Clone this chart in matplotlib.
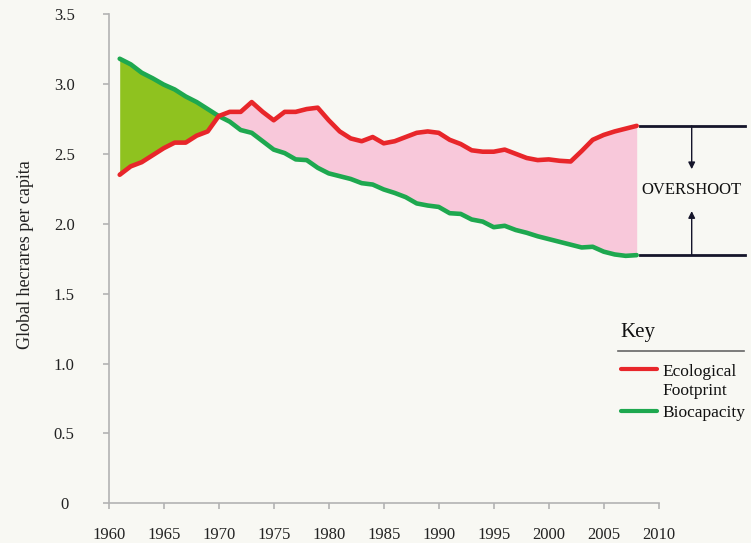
import numpy as np
import matplotlib
matplotlib.use("Agg")
import matplotlib.pyplot as plt
from matplotlib.lines import Line2D

years = np.arange(1961, 2009)

footprint = [2.35, 2.41, 2.44, 2.49, 2.54, 2.58, 2.58, 2.63, 2.66, 2.77,
             2.80, 2.80, 2.87, 2.80, 2.74, 2.80, 2.80, 2.82, 2.83, 2.74,
             2.66, 2.61, 2.59, 2.62, 2.575, 2.59, 2.62, 2.65, 2.66, 2.65,
             2.60, 2.57, 2.525, 2.515, 2.515, 2.53, 2.50, 2.47, 2.455, 2.46,
             2.45, 2.445, 2.52, 2.60, 2.635, 2.66, 2.68, 2.70]

biocapacity = [3.18, 3.14, 3.08, 3.04, 2.995, 2.96, 2.91, 2.87, 2.82, 2.77,
               2.73, 2.67, 2.65, 2.59, 2.53, 2.505, 2.46, 2.455, 2.40, 2.36,
               2.34, 2.32, 2.29, 2.28, 2.245, 2.22, 2.19, 2.145, 2.13, 2.12,
               2.075, 2.07, 2.03, 2.015, 1.975, 1.985, 1.955, 1.935, 1.91, 1.89,
               1.87, 1.85, 1.83, 1.835, 1.80, 1.78, 1.77, 1.775]

xticks = list(range(1960, 2011, 5))
yticks = [0, 0.5, 1.0, 1.5, 2.0, 2.5, 3.0, 3.5]
ytick_labels = ["0", "0.5", "1.0", "1.5", "2.0", "2.5", "3.0", "3.5"]

red = "#e8262a"
green = "#1ea84f"
bg = "#f8f8f3"
navy = "#15152a"
axis_gray = "#b3b3b3"

plt.rcParams['font.family'] = ['Liberation Serif', 'DejaVu Serif']

W, H = 751, 543
fig = plt.figure(figsize=(W / 100, H / 100), dpi=100, facecolor=bg)
ax = fig.add_axes([108.7 / W, 1 - 503.3 / H, 550 / W, (503.3 - 14) / H])
ax.set_facecolor(bg)

fp = np.array(footprint)
bc = np.array(biocapacity)
ax.fill_between(years, fp, bc, where=bc >= fp, interpolate=True,
                color="#8fc21f", linewidth=0)
ax.fill_between(years, fp, bc, where=fp >= bc, interpolate=True,
                color="#f8c8da", linewidth=0)
ax.plot(years, bc, color=green, lw=3.3, solid_capstyle='round',
        solid_joinstyle='round')
ax.plot(years, fp, color=red, lw=3.3, solid_capstyle='round',
        solid_joinstyle='round')

ax.set_xlim(1960, 2010)
ax.set_ylim(0, 3.5)
ax.set_xticks(xticks)
ax.set_yticks(yticks)
ax.set_yticklabels(ytick_labels)
for s in ['top', 'right']:
    ax.spines[s].set_visible(False)
for s in ['left', 'bottom']:
    ax.spines[s].set_color(axis_gray)
    ax.spines[s].set_linewidth(1.2)
ax.tick_params(axis='both', colors=axis_gray, length=4, width=1.2,
               labelcolor="#222222", labelsize=12)
ax.tick_params(axis='x', pad=13)
ax.tick_params(axis='y', pad=28)
for lab in ax.get_yticklabels():
    lab.set_horizontalalignment('center')

fig.text(26 / W, 1 - 255 / H, "Global hecrares per capita", rotation=90,
         ha='center', va='center', fontsize=13, color="#222222")

# overshoot bracket
top, bot = fp[-1], bc[-1]
x0, x1, xa = 2008.3, 2017.8, 2013.0
ax.plot([x0, x1], [top, top], color=navy, lw=2, clip_on=False)
ax.plot([x0, x1], [bot, bot], color=navy, lw=2, clip_on=False)
ax.annotate("", xy=(xa, 2.39), xytext=(xa, top), annotation_clip=False,
            arrowprops=dict(arrowstyle="-|>", color=navy, lw=1,
                            mutation_scale=10, shrinkA=0, shrinkB=0))
ax.annotate("", xy=(xa, 2.09), xytext=(xa, bot), annotation_clip=False,
            arrowprops=dict(arrowstyle="-|>", color=navy, lw=1,
                            mutation_scale=10, shrinkA=0, shrinkB=0))
ax.text(xa, (top + bot) / 2 + 0.005, "OVERSHOOT", ha='center', va='center',
        fontsize=12, color="#111111", clip_on=False)

# key
def fx(px):
    return px / W

def fy(py):
    return 1 - py / H

fig.text(fx(620), fy(333), "Key", fontsize=15, va='center', ha='left', color="#111111")
fig.add_artist(Line2D([fx(618), fx(744)], [fy(351), fy(351)], color="#666666", lw=1.2))
fig.add_artist(Line2D([fx(621), fx(657)], [fy(369), fy(369)], color=red, lw=3,
                      solid_capstyle='round'))
fig.add_artist(Line2D([fx(621), fx(657)], [fy(411), fy(411)], color=green, lw=3,
                      solid_capstyle='round'))
fig.text(fx(662), fy(372), "Ecological", fontsize=12.5, va='center', ha='left', color="#111111")
fig.text(fx(662), fy(391), "Footprint", fontsize=12.5, va='center', ha='left', color="#111111")
fig.text(fx(662), fy(413), "Biocapacity", fontsize=12.5, va='center', ha='left', color="#111111")

fig.savefig("out.png", dpi=100, facecolor=bg)
